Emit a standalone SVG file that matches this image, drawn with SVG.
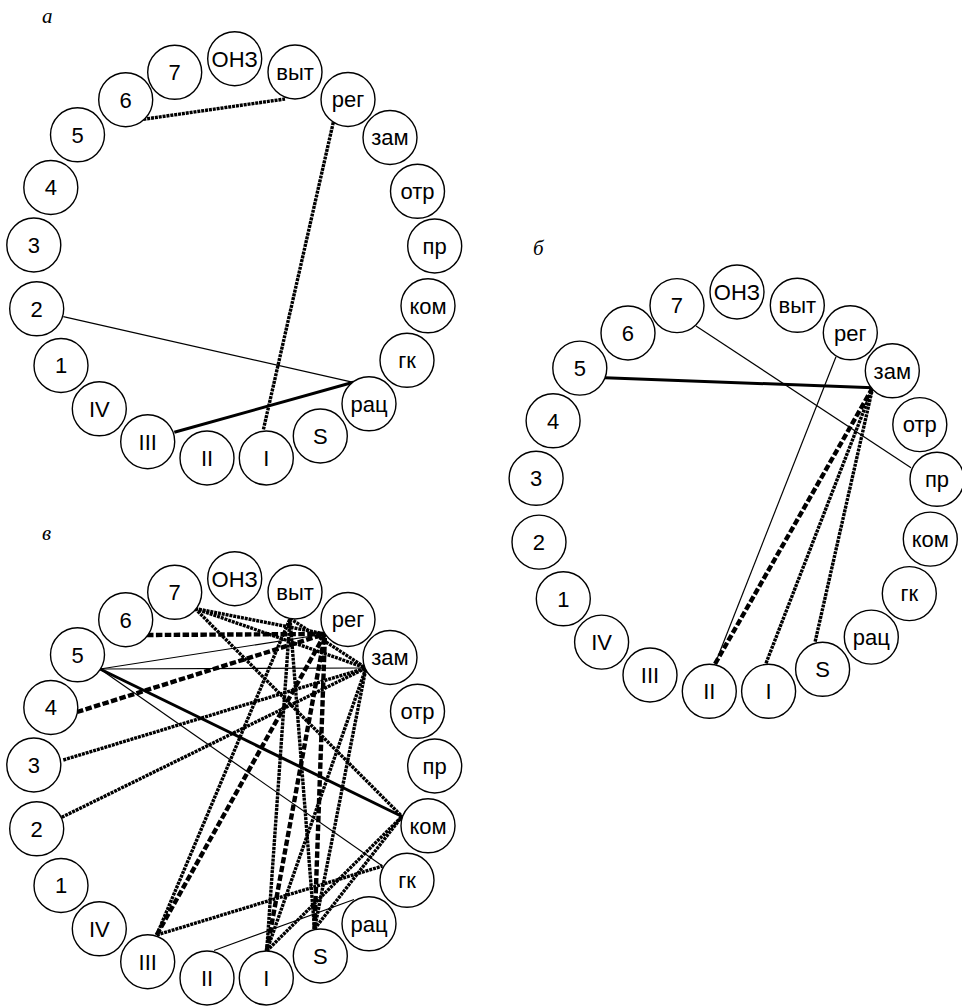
<svg xmlns="http://www.w3.org/2000/svg" width="962" height="1006" viewBox="0 0 962 1006">
<style>
.bg{fill:#fff}
.node circle{fill:#fff;stroke:#000;stroke-width:1.4}
.node text{font-family:"Liberation Sans",Arial,sans-serif;font-size:22px;text-anchor:middle;fill:#000}
.lbl{font-family:"Liberation Serif","Times New Roman",serif;font-style:italic;font-size:21px;fill:#000}
.e{fill:none;stroke:#000}
.thin{stroke-width:1.2}
.thick{stroke-width:3}
.dot{stroke-width:3.4;stroke-dasharray:3 0.9}
.hdash{stroke-width:4.4;stroke-dasharray:6.5 2.4}
</style>
<rect class="bg" x="0" y="0" width="962" height="1006"/>

<!-- Diagram a -->
<text class="lbl" x="42" y="23">а</text>
<g id="diagram-a">
<g id="a-connectors">
<line class="e dot" x1="143.3" y1="119.3" x2="285" y2="99"/>
<line class="e dot" x1="333.3" y1="122.3" x2="263.3" y2="430"/>
<line class="e thin" x1="63.3" y1="316.7" x2="353.3" y2="382.3"/>
<line class="e thick" x1="174.3" y1="432.3" x2="353.3" y2="382.3"/>
</g>
<g id="a-ONZ" class="node"><circle cx="234.7" cy="58.7" r="27"/><text x="234.7" y="66.5">ОНЗ</text></g>
<g id="a-n7" class="node"><circle cx="174.7" cy="72.3" r="27"/><text x="174.7" y="80.1">7</text></g>
<g id="a-n6" class="node"><circle cx="125.7" cy="99.7" r="27"/><text x="125.7" y="107.5">6</text></g>
<g id="a-n5" class="node"><circle cx="77.5" cy="134.8" r="27"/><text x="77.5" y="142.6">5</text></g>
<g id="a-n4" class="node"><circle cx="50.8" cy="187.5" r="27"/><text x="50.8" y="195.3">4</text></g>
<g id="a-n3" class="node"><circle cx="33.8" cy="245" r="27"/><text x="33.8" y="252.8">3</text></g>
<g id="a-n2" class="node"><circle cx="36.7" cy="308.8" r="27"/><text x="36.7" y="316.6">2</text></g>
<g id="a-n1" class="node"><circle cx="61" cy="365.5" r="27"/><text x="61" y="373.3">1</text></g>
<g id="a-IV" class="node"><circle cx="99.3" cy="408.8" r="27"/><text x="99.3" y="416.6">IV</text></g>
<g id="a-III" class="node"><circle cx="147.7" cy="441.7" r="27"/><text x="147.7" y="449.5">III</text></g>
<g id="a-II" class="node"><circle cx="207" cy="458" r="27"/><text x="207" y="465.8">II</text></g>
<g id="a-I" class="node"><circle cx="266.3" cy="458" r="27"/><text x="266.3" y="465.8">I</text></g>
<g id="a-S" class="node"><circle cx="320.3" cy="436" r="27"/><text x="320.3" y="443.8">S</text></g>
<g id="a-rac" class="node"><circle cx="369" cy="403.8" r="27"/><text x="369" y="411.6">рац</text></g>
<g id="a-gk" class="node"><circle cx="407" cy="360.3" r="27"/><text x="407" y="368.1">гк</text></g>
<g id="a-kom" class="node"><circle cx="428" cy="305.8" r="27"/><text x="428" y="313.6">ком</text></g>
<g id="a-pr" class="node"><circle cx="434.7" cy="246" r="27"/><text x="434.7" y="253.8">пр</text></g>
<g id="a-otr" class="node"><circle cx="417.5" cy="191.3" r="27"/><text x="417.5" y="199.1">отр</text></g>
<g id="a-zam" class="node"><circle cx="390" cy="137.5" r="27"/><text x="390" y="145.3">зам</text></g>
<g id="a-reg" class="node"><circle cx="348" cy="99.5" r="27"/><text x="348" y="107.3">рег</text></g>
<g id="a-vyt" class="node"><circle cx="295" cy="72" r="27"/><text x="295" y="79.8">выт</text></g>
</g>

<!-- Diagram b -->
<text class="lbl" x="533" y="255">б</text>
<g id="diagram-b" transform="translate(502.3,233.3)">
<g id="b-connectors">
<line class="e thick" x1="102.7" y1="144.4" x2="370.4" y2="154.4"/>
<line class="e thin" x1="193.7" y1="92.7" x2="408.7" y2="234.4"/>
<line class="e thin" x1="333.7" y1="123.4" x2="212.7" y2="430.7"/>
<line class="e hdash" x1="370.4" y1="154.4" x2="212.7" y2="430.7"/>
<line class="e dot" x1="370.4" y1="154.4" x2="263.7" y2="430"/>
<line class="e dot" x1="370.4" y1="154.4" x2="312.7" y2="409"/>
</g>
<g id="b-ONZ" class="node"><circle cx="234.7" cy="58.7" r="27"/><text x="234.7" y="66.5">ОНЗ</text></g>
<g id="b-n7" class="node"><circle cx="174.7" cy="72.3" r="27"/><text x="174.7" y="80.1">7</text></g>
<g id="b-n6" class="node"><circle cx="125.7" cy="99.7" r="27"/><text x="125.7" y="107.5">6</text></g>
<g id="b-n5" class="node"><circle cx="77.5" cy="134.8" r="27"/><text x="77.5" y="142.6">5</text></g>
<g id="b-n4" class="node"><circle cx="50.8" cy="187.5" r="27"/><text x="50.8" y="195.3">4</text></g>
<g id="b-n3" class="node"><circle cx="33.8" cy="245" r="27"/><text x="33.8" y="252.8">3</text></g>
<g id="b-n2" class="node"><circle cx="36.7" cy="308.8" r="27"/><text x="36.7" y="316.6">2</text></g>
<g id="b-n1" class="node"><circle cx="61" cy="365.5" r="27"/><text x="61" y="373.3">1</text></g>
<g id="b-IV" class="node"><circle cx="99.3" cy="408.8" r="27"/><text x="99.3" y="416.6">IV</text></g>
<g id="b-III" class="node"><circle cx="147.7" cy="441.7" r="27"/><text x="147.7" y="449.5">III</text></g>
<g id="b-II" class="node"><circle cx="207" cy="458" r="27"/><text x="207" y="465.8">II</text></g>
<g id="b-I" class="node"><circle cx="266.3" cy="458" r="27"/><text x="266.3" y="465.8">I</text></g>
<g id="b-S" class="node"><circle cx="320.3" cy="436" r="27"/><text x="320.3" y="443.8">S</text></g>
<g id="b-rac" class="node"><circle cx="369" cy="403.8" r="27"/><text x="369" y="411.6">рац</text></g>
<g id="b-gk" class="node"><circle cx="407" cy="360.3" r="27"/><text x="407" y="368.1">гк</text></g>
<g id="b-kom" class="node"><circle cx="428" cy="305.8" r="27"/><text x="428" y="313.6">ком</text></g>
<g id="b-pr" class="node"><circle cx="434.7" cy="246" r="27"/><text x="434.7" y="253.8">пр</text></g>
<g id="b-otr" class="node"><circle cx="417.5" cy="191.3" r="27"/><text x="417.5" y="199.1">отр</text></g>
<g id="b-zam" class="node"><circle cx="390" cy="137.5" r="27"/><text x="390" y="145.3">зам</text></g>
<g id="b-reg" class="node"><circle cx="348" cy="99.5" r="27"/><text x="348" y="107.3">рег</text></g>
<g id="b-vyt" class="node"><circle cx="295" cy="72" r="27"/><text x="295" y="79.8">выт</text></g>
</g>

<!-- Diagram v -->
<text class="lbl" x="42" y="540">в</text>
<g id="diagram-v" transform="translate(0,520)">
<g id="v-connectors">
<line class="e thin" x1="100" y1="149" x2="325" y2="114"/>
<line class="e thin" x1="100" y1="149" x2="366" y2="148"/>
<line class="e thin" x1="100" y1="149" x2="382.5" y2="346"/>
<line class="e thick" x1="100" y1="149" x2="402" y2="296.5"/>
<line class="e thin" x1="214" y1="430.5" x2="354" y2="379.5"/>
<line class="e hdash" x1="147" y1="115" x2="325" y2="114"/>
<line class="e hdash" x1="77" y1="192" x2="325" y2="114"/>
<line class="e hdash" x1="156.7" y1="415" x2="325" y2="114"/>
<line class="e hdash" x1="266.7" y1="431" x2="325" y2="114"/>
<line class="e hdash" x1="314.5" y1="409" x2="325" y2="114"/>
<line class="e dot" x1="195" y1="88.5" x2="325" y2="114"/>
<line class="e dot" x1="195" y1="88.5" x2="366" y2="148"/>
<line class="e dot" x1="195" y1="88.5" x2="402" y2="296.5"/>
<line class="e dot" x1="290" y1="98.5" x2="366" y2="148"/>
<line class="e dot" x1="63.3" y1="240" x2="366" y2="148"/>
<line class="e dot" x1="61.7" y1="297.3" x2="366" y2="148"/>
<line class="e dot" x1="156.7" y1="415" x2="290" y2="98.5"/>
<line class="e dot" x1="156.7" y1="415" x2="382.5" y2="346"/>
<line class="e dot" x1="266.7" y1="431" x2="290" y2="98.5"/>
<line class="e dot" x1="266.7" y1="431" x2="366" y2="148"/>
<line class="e dot" x1="266.7" y1="431" x2="402" y2="296.5"/>
<line class="e dot" x1="314.5" y1="409" x2="290" y2="98.5"/>
<line class="e dot" x1="314.5" y1="409" x2="366" y2="148"/>
<line class="e dot" x1="314.5" y1="409" x2="402" y2="296.5"/>
</g>
<g id="v-ONZ" class="node"><circle cx="234.7" cy="58.7" r="27"/><text x="234.7" y="66.5">ОНЗ</text></g>
<g id="v-n7" class="node"><circle cx="174.7" cy="72.3" r="27"/><text x="174.7" y="80.1">7</text></g>
<g id="v-n6" class="node"><circle cx="125.7" cy="99.7" r="27"/><text x="125.7" y="107.5">6</text></g>
<g id="v-n5" class="node"><circle cx="77.5" cy="134.8" r="27"/><text x="77.5" y="142.6">5</text></g>
<g id="v-n4" class="node"><circle cx="50.8" cy="187.5" r="27"/><text x="50.8" y="195.3">4</text></g>
<g id="v-n3" class="node"><circle cx="33.8" cy="245" r="27"/><text x="33.8" y="252.8">3</text></g>
<g id="v-n2" class="node"><circle cx="36.7" cy="308.8" r="27"/><text x="36.7" y="316.6">2</text></g>
<g id="v-n1" class="node"><circle cx="61" cy="365.5" r="27"/><text x="61" y="373.3">1</text></g>
<g id="v-IV" class="node"><circle cx="99.3" cy="408.8" r="27"/><text x="99.3" y="416.6">IV</text></g>
<g id="v-III" class="node"><circle cx="147.7" cy="441.7" r="27"/><text x="147.7" y="449.5">III</text></g>
<g id="v-II" class="node"><circle cx="207" cy="458" r="27"/><text x="207" y="465.8">II</text></g>
<g id="v-I" class="node"><circle cx="266.3" cy="458" r="27"/><text x="266.3" y="465.8">I</text></g>
<g id="v-S" class="node"><circle cx="320.3" cy="436" r="27"/><text x="320.3" y="443.8">S</text></g>
<g id="v-rac" class="node"><circle cx="369" cy="403.8" r="27"/><text x="369" y="411.6">рац</text></g>
<g id="v-gk" class="node"><circle cx="407" cy="360.3" r="27"/><text x="407" y="368.1">гк</text></g>
<g id="v-kom" class="node"><circle cx="428" cy="305.8" r="27"/><text x="428" y="313.6">ком</text></g>
<g id="v-pr" class="node"><circle cx="434.7" cy="246" r="27"/><text x="434.7" y="253.8">пр</text></g>
<g id="v-otr" class="node"><circle cx="417.5" cy="191.3" r="27"/><text x="417.5" y="199.1">отр</text></g>
<g id="v-zam" class="node"><circle cx="390" cy="137.5" r="27"/><text x="390" y="145.3">зам</text></g>
<g id="v-reg" class="node"><circle cx="348" cy="99.5" r="27"/><text x="348" y="107.3">рег</text></g>
<g id="v-vyt" class="node"><circle cx="295" cy="72" r="27"/><text x="295" y="79.8">выт</text></g>
</g>
</svg>
